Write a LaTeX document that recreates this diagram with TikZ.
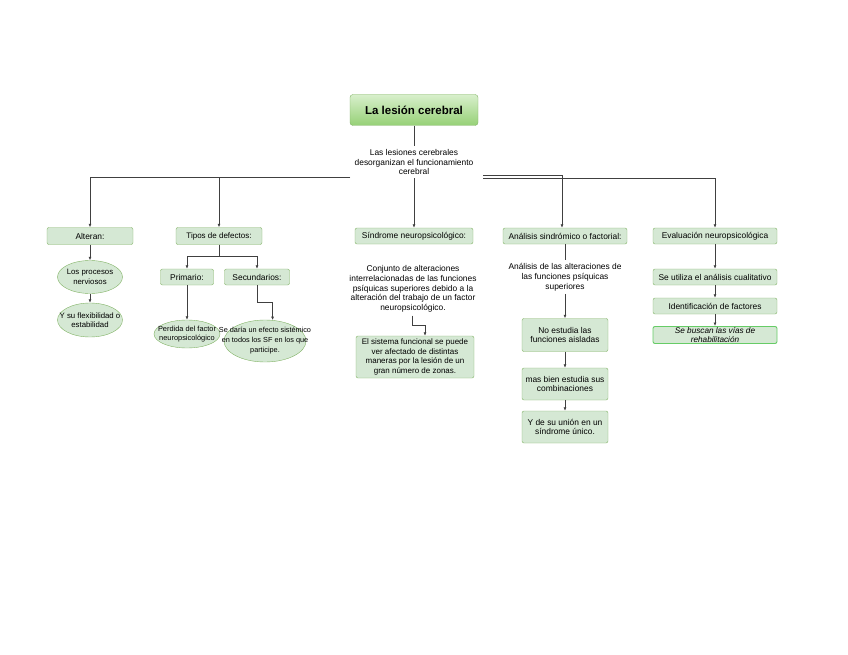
\documentclass[tikz,border=0pt]{standalone}
\usepackage{fontspec}
\setmainfont{Liberation Sans}
\usepackage{tikz}
\usetikzlibrary{shapes.geometric,arrows.meta}
\definecolor{verdefondo}{HTML}{D5E8D4}
\definecolor{verdeborde}{HTML}{82B366}
\definecolor{verdevivo}{HTML}{66CC66}
\definecolor{linea}{HTML}{404040}

\begin{document}
\begin{tikzpicture}[x=1pt,y=-1pt,
		every node/.style={font=\fontsize{8.4}{9.8}\selectfont,align=center},
		caja/.style={draw=verdeborde,fill=verdefondo,rounded corners=2pt,inner sep=1pt},
		elipse/.style={ellipse,draw=verdeborde,fill=verdefondo,inner xsep=-14pt,inner ysep=-6pt},
		texto/.style={inner sep=3pt},
		>={Latex[length=3.5pt,width=3pt]}]
		\useasboundingbox (0,0) rectangle (848,655);
		%Titulo y texto central
		\node[draw=verdeborde,rounded corners=3pt,top color={rgb,255:red,216;green,240;blue,204},bottom color={rgb,255:red,150;green,208;blue,118},minimum width=128pt,minimum height=31pt,font=\bfseries\fontsize{11.5}{13}\selectfont] (titulo) at (414,110) {La lesión cerebral};
		\node[texto] (lesiones) at (414,162) {Las lesiones cerebrales\\desorganizan el funcionamiento\\cerebral};
		\coordinate (izq) at (350,177);
		\coordinate (der1) at (483,175);
		\coordinate (der2) at (483,178);
		
		%Fila principal
		\node[caja,minimum width=86pt,minimum height=17pt] (alteran) at (90,236) {Alteran:};
		\node[caja,minimum width=86pt,minimum height=17pt,font=\fontsize{8}{9}\selectfont] (tipos) at (219,236) {Tipos de defectos:};
		\node[caja,minimum width=118pt,minimum height=16pt] (sindrome) at (414,236) {Síndrome neuropsicológico:};
		\node[caja,minimum width=124pt,minimum height=16pt] (analisis) at (565,236) {Análisis sindrómico o factorial:};
		\node[caja,minimum width=124pt,minimum height=16pt] (evaluacion) at (715,236) {Evaluación neuropsicológica};
		
		%Alteran
		\node[elipse,minimum width=65pt,minimum height=33pt,font=\fontsize{7.8}{9.5}\selectfont] (procesos) at (90,277) {Los procesos\\nerviosos};
		\node[elipse,minimum width=65pt,minimum height=34pt,font=\fontsize{7.8}{9.5}\selectfont] (flexibilidad) at (90,320) {Y su flexibilidad o\\estabilidad};
		
		%Tipos de defectos
		\node[caja,minimum width=53pt,minimum height=16pt] (primario) at (187,277) {Primario:};
		\node[caja,minimum width=65pt,minimum height=16pt] (secundarios) at (257,277) {Secundarios:};
		\node[elipse,minimum width=66pt,minimum height=28pt,font=\fontsize{7.4}{9.5}\selectfont] (perdida) at (187,334) {Perdida del factor\\neuropsicológico};
		\node[elipse,minimum width=82pt,minimum height=42pt,inner xsep=-20pt,font=\fontsize{7.3}{10}\selectfont] (sedaria) at (265,341) {Se daría un efecto sistémico\\en todos los SF en los que\\participe.};
		
		%Sindrome
		\node[texto] (conjunto) at (413,289) {Conjunto de alteraciones\\interrelacionadas de las funciones\\psíquicas superiores debido a la\\alteración del trabajo de un factor\\neuropsicológico.};
		\node[caja,minimum width=118pt,minimum height=42pt,font=\fontsize{8}{9.8}\selectfont] (sistema) at (415,357) {El sistema funcional se puede\\ver afectado de distintas\\maneras por la lesión de un\\gran número de zonas.};
		
		%Analisis
		\node[texto] (analisistxt) at (565,277) {Análisis de las alteraciones de\\las funciones psíquicas\\superiores};
		\node[caja,minimum width=86pt,minimum height=33pt] (noestudia) at (565,335) {No estudia las\\funciones aisladas};
		\node[caja,minimum width=86pt,minimum height=32pt] (masbien) at (565,384) {mas bien estudia sus\\combinaciones};
		\node[caja,minimum width=86pt,minimum height=32pt] (union) at (565,427) {Y de su unión en un\\síndrome único.};
		
		%Evaluacion
		\node[caja,minimum width=124pt,minimum height=16pt] (cualitativo) at (715,277) {Se utiliza el análisis cualitativo};
		\node[caja,minimum width=124pt,minimum height=16pt] (identificacion) at (715,306) {Identificación de factores};
		\node[caja,draw=verdevivo,line width=0.9pt,minimum width=124pt,minimum height=17pt,font=\itshape\fontsize{8.2}{8.8}\selectfont] (buscan) at (715,335) {Se buscan las vías de\\rehabilitación};
		
		\begin{scope}[draw=linea,line width=0.8pt]
		\draw (titulo) -- (lesiones);
		\draw[->] (lesiones) -- (sindrome);
		\draw[->] (izq) -| (alteran);
		\draw[->] (izq) -| (tipos);
		\draw[->] (der1) -| ([xshift=-3pt]analisis.north);
		\draw[->] (der2) -| (evaluacion);
		
		\draw[->] (alteran) -- (procesos);
		\draw[->] (procesos) -- (flexibilidad);
		
		\draw[->] (tipos.south) -- ++(0,12) -| (primario);
		\draw[->] (tipos.south) -- ++(0,12) -| (secundarios);
		\draw[->] (primario) -- (perdida);
		\draw[->] (secundarios.south) -- ++(0,17) -| (sedaria.70);
		
		\draw[->] ([xshift=-1pt]conjunto.south) -- ++(0,10) -| ([xshift=10pt]sistema.north);
		
		\draw (analisis) -- (analisistxt);
		\draw[->] (analisistxt) -- (noestudia);
		\draw[->] (noestudia) -- (masbien);
		\draw[->] (masbien) -- (union);
		
		\draw[->] (evaluacion) -- (cualitativo);
		\draw[->] (cualitativo) -- (identificacion);
		\draw[->] (identificacion) -- (buscan);
		\end{scope}
		\end{tikzpicture}
\end{document}
